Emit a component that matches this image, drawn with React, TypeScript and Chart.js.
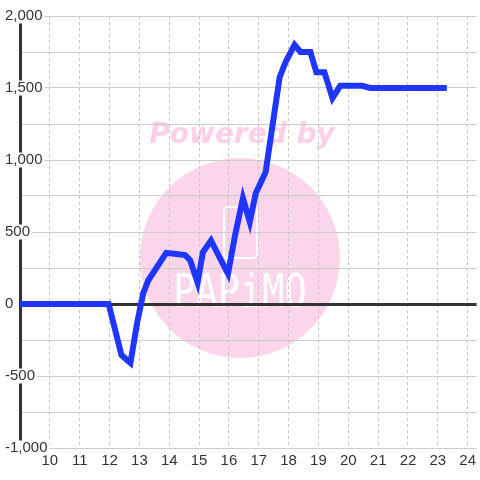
import React, { useEffect, useRef } from "react";
import { Chart, registerables } from "chart.js";

Chart.register(...registerables);

const xValues = [9, 11.97, 12.4, 12.7, 12.93, 13.13, 13.3, 13.9, 14.3, 14.53, 14.7, 14.95, 15.13, 15.4, 15.97, 16.2, 16.47, 16.7, 16.9, 17.23, 17.7, 17.9, 18.2, 18.4, 18.73, 18.93, 19.2, 19.47, 19.73, 20.47, 20.73, 23.3];
const yValues = [0, 0, -355, -410, -125, 75, 165, 355, 345, 340, 305, 150, 360, 440, 210, 470, 735, 570, 770, 915, 1575, 1680, 1800, 1750, 1750, 1610, 1610, 1430, 1515, 1515, 1500, 1500];
const xRange = [9, 24.3];
const yRange = [-1000, 2000];
const yLabelStep = 500;
const watermarkTitle = "Powered by";
const watermarkLogo = "PAPiMO";

const watermark = {
  id: "watermark",
  beforeDraw(chart: any) {
    const ctx = chart.ctx;
    ctx.save();
    ctx.fillStyle = "#fbd6ea";
    ctx.beginPath();
    ctx.arc(240, 258, 100, 0, Math.PI * 2);
    ctx.fill();
    ctx.fillStyle = "#fcd0e7";
    ctx.font = 'bold italic 28px "DejaVu Sans"';
    ctx.textAlign = "center";
    ctx.textBaseline = "alphabetic";
    ctx.fillText(watermarkTitle, 242, 143);
    ctx.strokeStyle = "#ffffff";
    ctx.lineWidth = 2;
    ctx.beginPath();
    ctx.roundRect(224, 207, 33, 51, 4);
    ctx.stroke();
    ctx.translate(240, 307);
    ctx.scale(1, 1.25);
    ctx.fillStyle = "#ffffff";
    ctx.font = '37px "DejaVu Sans Mono"';
    ctx.fillText(watermarkLogo, 0, 0);
    ctx.restore();
  },
};

export default function App() {
  const ref = useRef<HTMLCanvasElement>(null);
  useEffect(() => {
    const chart = new Chart(ref.current!, {
      type: "line",
      data: {
        datasets: [
          {
            data: xValues.map((x, i) => ({ x, y: yValues[i] })),
            borderColor: "#1f36ff",
            borderWidth: 6,
            pointRadius: 0,
            tension: 0,
            fill: false,
          },
        ],
      },
      options: {
        animation: false,
        responsive: false,
        devicePixelRatio: 1,
        layout: { padding: { top: 16, left: 0, right: 0, bottom: 0 } },
        plugins: { legend: { display: false }, tooltip: { enabled: false } },
        scales: {
          x: {
            type: "linear",
            min: xRange[0],
            max: xRange[1],
            afterFit: (s: any) => { s.height = 32; },
            border: { display: false, dash: [3, 3] },
            grid: {
              drawTicks: false,
              color: (c: any) => (c.tick && c.tick.value === xRange[0] ? "rgba(0,0,0,0)" : "#c4c4c4"),
              lineWidth: 1,
            },
            ticks: {
              stepSize: 1,
              includeBounds: false,
              padding: 4,
              color: "#333",
              font: { family: '"Liberation Sans", Arial', size: 15 },
              callback: (v: any) => (v === xRange[0] ? "" : String(v)),
              maxRotation: 0,
              autoSkip: false,
            },
          },
          y: {
            min: yRange[0],
            max: yRange[1],
            afterFit: (s: any) => { s.width = 20; },
            border: { display: true, color: "#333", width: 3 },
            grid: {
              drawTicks: false,
              color: (c: any) => (c.tick && c.tick.value === 0 ? "#333" : "#cccccc"),
              lineWidth: (c: any) => (c.tick && c.tick.value === 0 ? 3 : 1),
            },
            ticks: {
              stepSize: 250,
              mirror: true,
              crossAlign: "near",
              padding: -15,
              color: "#333",
              font: { family: '"Liberation Sans", Arial', size: 15, lineHeight: 1 },
              showLabelBackdrop: true,
              backdropColor: (c: any) => (c.tick && c.tick.value % yLabelStep === 0 ? "#ffffff" : "rgba(0,0,0,0)"),
              backdropPadding: { top: 0, bottom: 0, left: 2, right: 2 },
              callback: (v: any) => (Number(v) % yLabelStep === 0 ? Number(v).toLocaleString("en-US") : ""),
              autoSkip: false,
            },
          },
        },
      } as any,
      plugins: [watermark],
    });
    return () => chart.destroy();
  }, []);
  return (
    <div style={{ position: "fixed", left: 0, top: 0, width: 480, height: 480, background: "#fff" }}>
      <canvas ref={ref} width={480} height={480} style={{ display: "block" }} />
    </div>
  );
}
